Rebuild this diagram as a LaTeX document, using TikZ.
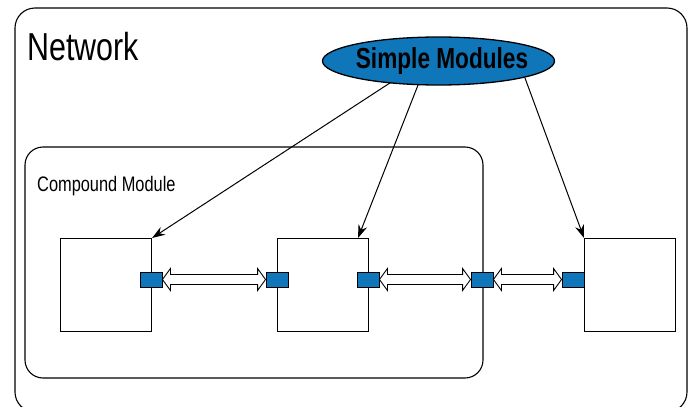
\documentclass[tikz,border=0pt]{standalone}
\usepackage{fontspec}
\setmainfont{Liberation Sans}[FakeStretch=0.78]
\usetikzlibrary{arrows.meta,shapes.geometric,calc}
\definecolor{modblue}{RGB}{16,118,186}
\newcommand\dblarrow[2]{%
  \draw[dbl] let \p1=(#1.east), \p2=(#2.west) in
    (\x1,\y1) -- ++(8pt,11pt) -- ++(0,-6pt) -- ({\x2-8pt},{\y1+5pt}) -- ++(0,6pt)
    -- (\x2,\y1) -- ++(-8pt,-11pt) -- ++(0,6pt) -- ({\x1+8pt},{\y1-5pt}) -- ++(0,-6pt) -- cycle;}
\begin{document}
\begin{tikzpicture}[x=1pt,y=-1pt,
  frame/.style={draw=black, line width=1.1pt, rounded corners=20pt},
  modbox/.style={draw=black, line width=1.1pt, minimum width=91pt, minimum height=93pt, inner sep=0pt, anchor=north west},
  port/.style={draw=black, fill=modblue, line width=0.9pt, minimum width=22pt, minimum height=15pt, inner sep=0pt},
  ptr/.style={draw=black, line width=1pt, -{Stealth[length=13pt,width=9pt]}},
  dbl/.style={draw=black, fill=white, line width=0.9pt, line join=miter},
  lbl/.style={anchor=base west, inner sep=0pt}]
\useasboundingbox (0,0) rectangle (694,407);
\draw[frame] (15,8) rectangle (687,412);
\draw[frame, rounded corners=18pt] (25,147) rectangle (483,378);
\node[lbl, font=\fontsize{39}{39}\selectfont] (net) at (27,60) {Network};
\node[lbl, font=\fontsize{21}{21}\selectfont] (cm) at (37,191) {Compound Module};
\node[modbox] (b1) at (60,238) {};
\node[modbox] (b2) at (277,238) {};
\node[modbox] (b3) at (584,238) {};
\node[port] (p1) at (151,279.5) {};
\node[port] (p2) at (277,279.5) {};
\node[port] (p3) at (368,279.5) {};
\node[port] (p4) at (482,279.5) {};
\node[port] (p5) at (573,279.5) {};
\dblarrow{p1}{p2}
\dblarrow{p3}{p4}
\dblarrow{p4}{p5}
\coordinate (s1) at (396,79);
\coordinate (s2) at (420,80);
\coordinate (s3) at (525,78);
\coordinate (t2) at (358,238);
\draw[ptr] (s1) -- (b1.north east);
\draw[ptr] (s2) -- (t2);
\draw[ptr] (s3) -- (b3.north west);
\node[ellipse, draw=black, fill=modblue, line width=1.3pt, minimum width=232pt, minimum height=48pt, inner sep=0pt] (sm) at (438.5,61) {};
\node[font=\bfseries\fontsize{29}{29}\selectfont, inner sep=0pt] (smt) at (442,61) {Simple Modules};
\end{tikzpicture}
\end{document}
